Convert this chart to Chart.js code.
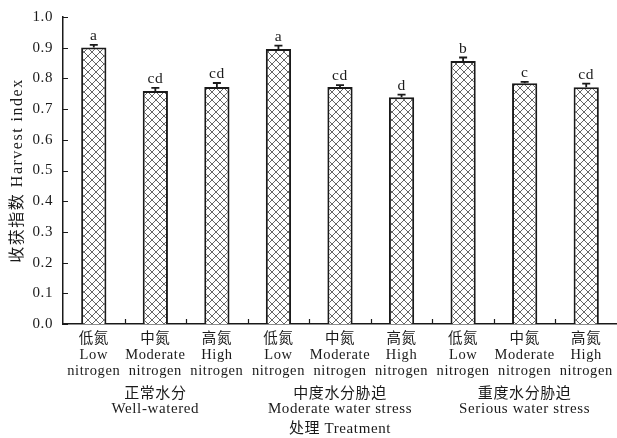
<!DOCTYPE html>
<html>
<head>
<meta charset="utf-8">
<script src="https://cdn.jsdelivr.net/npm/chart.js@4/dist/chart.umd.min.js"></script>
<style>
  html, body { margin: 0; padding: 0; background: #fff; }
  canvas { display: block; }
</style>
</head>
<body>
<canvas id="chart" width="617" height="438"></canvas>
<script>
// Nitrogen levels (one per bar), Chinese + English label lines
const nitrogenCn = ['低氮', '中氮', '高氮', '低氮', '中氮', '高氮', '低氮', '中氮', '高氮'];
const nitrogenEn = ['Low', 'Moderate', 'High', 'Low', 'Moderate', 'High', 'Low', 'Moderate', 'High'];
const nitrogenWord = 'nitrogen';

// Water regimes, each spanning three bars
const waterCn = ['正常水分', '中度水分胁迫', '重度水分胁迫'];
const waterEn = ['Well-watered', 'Moderate water stress', 'Serious water stress'];

// Harvest index, standard error and significance letters
const harvestIndex = [0.901, 0.759, 0.772, 0.896, 0.772, 0.739, 0.857, 0.784, 0.771];
const stdError     = [0.008, 0.010, 0.013, 0.011, 0.006, 0.008, 0.011, 0.005, 0.012];
const sigLetters   = ['a', 'cd', 'cd', 'a', 'cd', 'd', 'b', 'c', 'cd'];

const yTicks = [0, 0.1, 0.2, 0.3, 0.4, 0.5, 0.6, 0.7, 0.8, 0.9, 1.0];
const yTitle = '收获指数 Harvest index';
const xTitle = '处理 Treatment';

const FONT = "'Liberation Serif', 'Times New Roman', 'Noto Sans CJK SC', serif";
const INK = '#1a1a1a';

// Tick labels: three lines per bar
const barLabels = nitrogenCn.map((cn, i) => [cn, nitrogenEn[i], nitrogenWord]);
// Group labels placed under the middle bar of each group of three
const groupLabels = barLabels.map((_, i) => {
  const g = Math.floor(i / 3);
  return i % 3 === 1 ? [waterCn[g], waterEn[g]] : '';
});

// Cross-hatch fill for the bars
function makeHatch() {
  const s = 8;
  const c = document.createElement('canvas');
  c.width = s; c.height = s;
  const g = c.getContext('2d');
  g.fillStyle = '#fff';
  g.fillRect(0, 0, s, s);
  g.strokeStyle = '#666';
  g.lineWidth = 1;
  g.beginPath();
  g.moveTo(0, 0); g.lineTo(s, s);
  g.moveTo(s, 0); g.lineTo(0, s);
  g.stroke();
  return g.createPattern(c, 'repeat');
}
const hatch = makeHatch();

// Letter spacing for all text on the canvas
const spacingPlugin = {
  id: 'spacing',
  beforeDraw(chart) { chart.ctx.letterSpacing = '0.6px'; }
};

// Upper error bars and significance letters
const errorPlugin = {
  id: 'errorBars',
  afterDatasetsDraw(chart) {
    const ctx = chart.ctx;
    const y = chart.scales.y;
    const meta = chart.getDatasetMeta(0);
    ctx.save();
    ctx.strokeStyle = INK;
    ctx.lineWidth = 1.8;
    ctx.fillStyle = INK;
    ctx.font = '15.5px ' + FONT;
    ctx.textAlign = 'center';
    ctx.textBaseline = 'alphabetic';
    meta.data.forEach((bar, i) => {
      const v = harvestIndex[i];
      const top = y.getPixelForValue(v + stdError[i]);
      const base = y.getPixelForValue(v);
      ctx.beginPath();
      ctx.moveTo(bar.x, base);
      ctx.lineTo(bar.x, top);
      ctx.moveTo(bar.x - 4, top);
      ctx.lineTo(bar.x + 4, top);
      ctx.stroke();
      ctx.fillText(sigLetters[i], bar.x, top - 5);
    });
    ctx.restore();
  }
};

// Inward tick marks and the rotated y-axis title
const axesPlugin = {
  id: 'inwardTicks',
  afterDraw(chart) {
    const ctx = chart.ctx;
    const x = chart.scales.x;
    const y = chart.scales.y;
    const area = chart.chartArea;
    ctx.save();
    ctx.strokeStyle = INK;
    ctx.lineWidth = 1.2;
    ctx.beginPath();
    y.ticks.forEach(t => {
      const py = Math.round(y.getPixelForValue(t.value)) + 0.5;
      ctx.moveTo(area.left, py);
      ctx.lineTo(area.left + 5, py);
    });
    for (let i = 1; i < barLabels.length; i++) {
      const px = Math.round((x.getPixelForValue(i - 1) + x.getPixelForValue(i)) / 2) + 0.5;
      ctx.moveTo(px, area.bottom);
      ctx.lineTo(px, area.bottom - 5);
    }
    ctx.stroke();

    ctx.fillStyle = INK;
    ctx.font = '16px ' + FONT;
    ctx.letterSpacing = '1.5px';
    ctx.textAlign = 'center';
    ctx.textBaseline = 'middle';
    ctx.translate(18, (area.top + area.bottom) / 2);
    ctx.rotate(-Math.PI / 2);
    ctx.fillText(yTitle, 0, 0);
    ctx.restore();
  }
};

new Chart(document.getElementById('chart'), {
  type: 'bar',
  data: {
    labels: barLabels,
    datasets: [{
      data: harvestIndex,
      backgroundColor: hatch,
      borderColor: INK,
      borderWidth: 2,
      borderSkipped: 'bottom',
      barPercentage: 0.41,
      categoryPercentage: 1.0
    }]
  },
  options: {
    responsive: false,
    animation: false,
    events: [],
    layout: { padding: { top: 17, right: 0, left: 0, bottom: 0 } },
    plugins: {
      legend: { display: false },
      tooltip: { enabled: false }
    },
    scales: {
      x: {
        type: 'category',
        offset: true,
        weight: 0,
        afterFit(scale) { scale.height = 60; },
        grid: { display: false },
        border: { display: true, color: INK, width: 1.5 },
        ticks: {
          autoSkip: false,
          maxRotation: 0,
          padding: -1,
          color: INK,
          font: { family: FONT, size: 14.5, lineHeight: 1.12 }
        }
      },
      x2: {
        type: 'category',
        labels: groupLabels,
        position: 'bottom',
        offset: true,
        weight: 1,
        afterFit(scale) { scale.height = 54; },
        grid: { display: false },
        border: { display: false },
        ticks: {
          autoSkip: false,
          maxRotation: 0,
          padding: -5,
          color: INK,
          font: { family: FONT, size: 15, lineHeight: 1.0 }
        },
        title: {
          display: true,
          text: xTitle,
          color: INK,
          padding: { top: 0, bottom: 0 },
          font: { family: FONT, size: 15, lineHeight: 1.2 }
        }
      },
      y: {
        min: 0,
        max: 1,
        afterFit(scale) { scale.width = 63; },
        afterBuildTicks(scale) { scale.ticks = yTicks.map(v => ({ value: v })); },
        grid: { display: false },
        border: { display: true, color: INK, width: 1.5 },
        ticks: {
          padding: 2,
          color: INK,
          font: { family: FONT, size: 15 },
          callback: v => Number(v).toFixed(1)
        }
      }
    }
  },
  plugins: [spacingPlugin, errorPlugin, axesPlugin]
});
</script>
</body>
</html>
